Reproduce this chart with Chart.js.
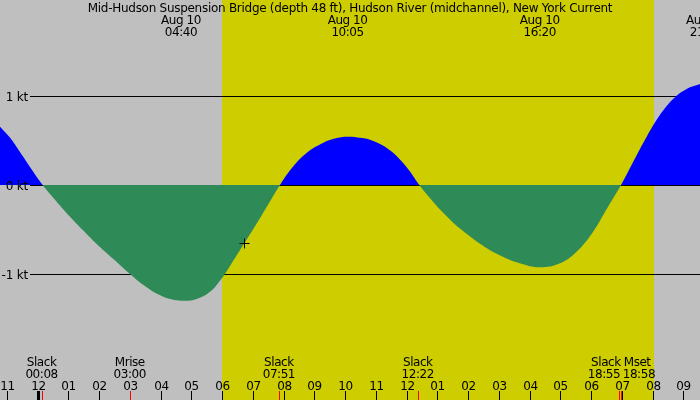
<!DOCTYPE html>
<html>
<head>
<meta charset="utf-8">
<script src="https://cdn.jsdelivr.net/npm/chart.js@4.4.1/dist/chart.umd.min.js"></script>
<style>
html, body { margin: 0; padding: 0; background: #bfbfbf; }
#wrap { width: 700px; height: 400px; }
</style>
</head>
<body>
<div id="wrap"><canvas id="tide"></canvas></div>
<script>
// current speed in knots, hours counted from midnight Aug 10 (negative = previous evening)
const hours = [-1.22, -0.89, -0.57, -0.24, 0.168, 0.623, 1.057, 1.49, 1.924, 2.466, 3.008, 3.55, 4.09, 4.69,
               5.176, 5.61, 5.99, 6.26, 6.726, 7.24, 7.886, 8.32, 8.75, 9.295, 9.73, 10.108, 10.5, 10.92, 11.46,
               12.005, 12.417, 12.87, 13.306, 13.74, 14.39, 15.03, 15.68, 16.34, 16.99, 17.53, 18.07, 18.51,
               18.976, 19.375, 19.81, 20.24, 20.68, 21.11, 21.545];
const knots = [0.655, 0.53, 0.37, 0.20, 0, -0.187, -0.356, -0.512, -0.663, -0.832, -1.0, -1.15, -1.255, -1.30,
               -1.28, -1.20, -1.05, -0.91, -0.655, -0.37, 0, 0.21, 0.36, 0.475, 0.527, 0.543, 0.53, 0.495, 0.39,
               0.20, 0, -0.19, -0.35, -0.49, -0.66, -0.79, -0.88, -0.925, -0.88, -0.75, -0.524, -0.27,
               0, 0.262, 0.543, 0.787, 0.97, 1.08, 1.135];

// the "+" marker (current time)
const nowHour = [6.732];
const nowKnots = [-0.657];

// max flood / ebb labels along the top
const peakHours = [4.667, 10.083, 16.333, 21.74];
const peakTimes = ['04:40', '10:05', '16:20', '21:44'];
const peakDate = 'Aug 10';

// slack and moon events along the bottom
const eventHours = [0.133, 3.0, 7.85, 12.367, 18.917, 18.967];
const eventNames = ['Slack', 'Mrise', 'Slack', 'Slack', 'Slack', 'Mset'];
const eventTimes = ['00:08', '03:00', '07:51', '12:22', '18:55', '18:58'];

// hour ticks
const tickHours = [-1, 0, 1, 2, 3, 4, 5, 6, 7, 8, 9, 10, 11, 12, 13, 14, 15, 16, 17, 18, 19, 20, 21];
const tickLabels = ['11', '12', '01', '02', '03', '04', '05', '06', '07', '08', '09', '10', '11',
                    '12', '01', '02', '03', '04', '05', '06', '07', '08', '09'];

const yTicks = [1, 0, -1];
const yTickLabels = ['1 kt', '0 kt', '-1 kt'];

const sunUp = 6.0, sunDown = 20.04;
const title = 'Mid-Hudson Suspension Bridge (depth 48 ft), Hudson River (midchannel), New York Current';

const NIGHT = '#bfbfbf', DAY = '#cdcd00';
const FONT = '12px "DejaVu Sans", sans-serif';

function xy(xsArr, ysArr) {
    return xsArr.map((h, i) => ({ x: h, y: ysArr[i] }));
}

const tideDecor = {
    id: 'tideDecor',
    beforeDatasetsDraw(chart) {
        const ctx = chart.ctx, xs = chart.scales.x, ys = chart.scales.y;
        const W = chart.width, H = chart.height;
        ctx.save();
        ctx.fillStyle = NIGHT;
        ctx.fillRect(0, 0, W, H);
        const a = Math.round(xs.getPixelForValue(sunUp)), b = Math.round(xs.getPixelForValue(sunDown));
        ctx.fillStyle = DAY;
        ctx.fillRect(a, 0, b - a, H);
        ctx.strokeStyle = '#000';
        ctx.lineWidth = 1;
        yTicks.forEach(v => {
            const y = Math.round(ys.getPixelForValue(v)) + 0.5;
            ctx.beginPath();
            ctx.moveTo(30, y);
            ctx.lineTo(W, y);
            ctx.stroke();
        });
        ctx.restore();
    },
    afterDatasetsDraw(chart) {
        const ctx = chart.ctx, xs = chart.scales.x, ys = chart.scales.y;
        const W = chart.width, H = chart.height;
        ctx.save();
        ctx.font = FONT;
        ctx.fillStyle = '#000';
        ctx.textBaseline = 'alphabetic';

        // y labels
        ctx.textAlign = 'right';
        ctx.letterSpacing = '-0.2px';
        yTicks.forEach((v, i) => {
            ctx.fillText(yTickLabels[i], 28, Math.round(ys.getPixelForValue(v)) + 4.5);
        });

        // title + peak labels
        ctx.textAlign = 'center';
        ctx.letterSpacing = '-0.28px';
        ctx.fillText(title, W / 2, 12);
        ctx.letterSpacing = '-0.45px';
        peakHours.forEach((h, i) => {
            const x = xs.getPixelForValue(h);
            ctx.fillText(peakDate, x, 24);
            ctx.fillText(peakTimes[i], x, 36);
        });

        // hour ticks
        ctx.lineWidth = 1;
        tickHours.forEach((h, i) => {
            const x = Math.round(xs.getPixelForValue(h)) + 0.5;
            ctx.strokeStyle = '#000';
            ctx.beginPath();
            ctx.moveTo(x, 391);
            ctx.lineTo(x, H);
            ctx.stroke();
            ctx.textAlign = 'center';
            ctx.fillText(tickLabels[i], x, 390);
        });
        // midnight marker
        const m = xs.getPixelForValue(0);
        ctx.fillRect(Math.round(m) - 1, 391, 3, H - 391);

        // event ticks and labels
        ctx.strokeStyle = '#ff0000';
        eventHours.forEach((h, i) => {
            const x = Math.round(xs.getPixelForValue(h)) + 0.5;
            ctx.beginPath();
            ctx.moveTo(x, 391);
            ctx.lineTo(x, H);
            ctx.stroke();
        });
        let i = 0;
        while (i < eventHours.length) {
            const x = xs.getPixelForValue(eventHours[i]);
            const nx = i + 1 < eventHours.length ? xs.getPixelForValue(eventHours[i + 1]) : Infinity;
            if (nx - x < 40) {
                // two labels too close: push them apart around the ticks
                ctx.textAlign = 'right';
                ctx.fillText(eventNames[i], x + 1.5, 366);
                ctx.fillText(eventTimes[i], x + 1, 378);
                ctx.textAlign = 'left';
                ctx.fillText(eventNames[i + 1], nx + 3, 366);
                ctx.fillText(eventTimes[i + 1], nx + 2, 378);
                i += 2;
            } else {
                ctx.textAlign = 'center';
                ctx.fillText(eventNames[i], x, 366);
                ctx.fillText(eventTimes[i], x, 378);
                i += 1;
            }
        }
        ctx.restore();
    }
};

new Chart(document.getElementById('tide'), {
    type: 'line',
    data: {
        datasets: [{
            data: xy(hours, knots),
            order: 2,
            borderWidth: 0,
            borderColor: 'rgba(0,0,0,0)',
            pointRadius: 0,
            tension: 0.4,
            fill: { target: 'origin', above: '#0000ff', below: '#2e8b57' }
        }, {
            data: xy(nowHour, nowKnots),
            order: 1,
            showLine: false,
            pointStyle: 'cross',
            pointRadius: 5,
            pointBorderWidth: 1,
            pointBorderColor: '#000000',
            pointBackgroundColor: '#000000',
            borderColor: '#000000',
            fill: false
        }]
    },
    options: {
        responsive: true,
        maintainAspectRatio: false,
        animation: false,
        layout: { padding: 0, autoPadding: false },
        plugins: { legend: { display: false }, tooltip: { enabled: false }, title: { display: false } },
        scales: {
            x: { type: 'linear', display: false, min: -37.5 / 30.75, max: (700 - 37.5) / 30.75 },
            y: { type: 'linear', display: false, min: -215 / 89, max: 185 / 89 }
        }
    },
    plugins: [tideDecor]
});
</script>
</body>
</html>
